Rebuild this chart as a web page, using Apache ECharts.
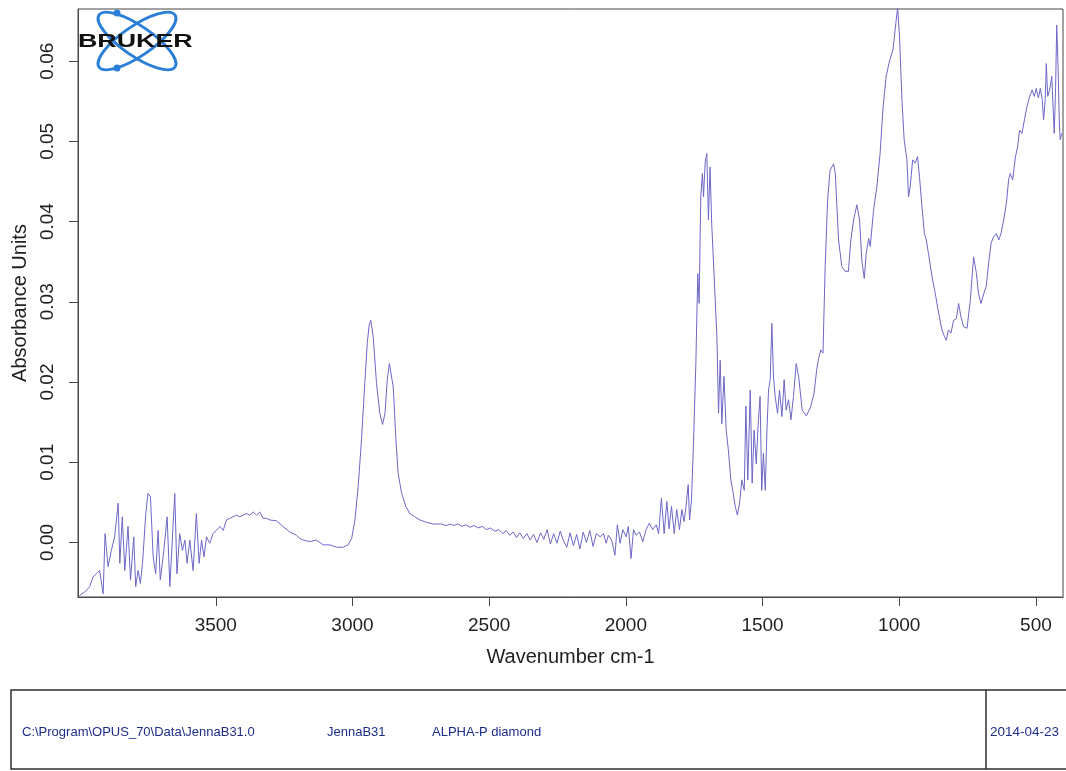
<!DOCTYPE html>
<html>
<head>
<meta charset="utf-8">
<title>JennaB31 - ATR spectrum</title>
<script src="https://cdn.jsdelivr.net/npm/echarts@6/dist/echarts.min.js"></script>
<style>
  html, body { margin: 0; padding: 0; background: #ffffff; }
  #chart { width: 1066px; height: 771px; }
</style>
</head>
<body>
<div id="chart"></div>
<script>
// Spectrum, [wavenumber cm-1, absorbance], split by region (high to low wavenumber)
const ohRegion = [
  [3998, -0.0066], [3980, -0.0062], [3961, -0.0055], [3949, -0.0043], [3937, -0.0039],
  [3925, -0.0035], [3912, -0.0064], [3905, 0.0011], [3894, -0.0030], [3882, -0.0010],
  [3870, 0.0007], [3857, 0.0049], [3851, -0.0026], [3842, 0.0032], [3833, -0.0035],
  [3821, 0.0020], [3812, -0.0047], [3800, 0.0007], [3793, -0.0055], [3784, -0.0035],
  [3776, -0.0051], [3768, -0.0026], [3756, 0.0036], [3748, 0.0061], [3739, 0.0057],
  [3729, -0.0018], [3720, -0.0039], [3711, 0.0015], [3703, -0.0047], [3690, -0.0010],
  [3678, 0.0032], [3668, -0.0055], [3659, 0.0003], [3650, 0.0061], [3642, -0.0039],
  [3632, 0.0011], [3622, -0.0010], [3613, 0.0003], [3605, -0.0026], [3595, 0.0003],
  [3583, -0.0035], [3571, 0.0036], [3561, -0.0026], [3552, 0.0003], [3543, -0.0018],
  [3534, 0.0007], [3522, -0.0001], [3510, 0.0011], [3498, 0.0015], [3485, 0.0020],
  [3473, 0.0015], [3461, 0.0028], [3449, 0.0030], [3437, 0.0032], [3424, 0.0034],
  [3412, 0.0032], [3400, 0.0034], [3388, 0.0036], [3376, 0.0034], [3363, 0.0038],
  [3351, 0.0034], [3339, 0.0038], [3327, 0.0030], [3315, 0.0030], [3302, 0.0028],
  [3278, 0.0027], [3254, 0.0020], [3229, 0.0013], [3205, 0.0009], [3193, 0.0005],
  [3180, 0.0003], [3156, 0.0001], [3132, 0.0003], [3107, -0.0003], [3083, -0.0003],
  [3058, -0.0006], [3034, -0.0006]
];

const chRegion = [
  [3016, -0.0003], [3003, 0.0005], [2991, 0.0028], [2979, 0.0070], [2967, 0.0128],
  [2955, 0.0198], [2946, 0.0248], [2939, 0.0271], [2933, 0.0277], [2924, 0.0256],
  [2912, 0.0198], [2900, 0.0161], [2890, 0.0147], [2881, 0.0161], [2873, 0.0202],
  [2865, 0.0223], [2859, 0.0225], [2851, 0.0194], [2841, 0.0128], [2833, 0.0086],
  [2820, 0.0061], [2805, 0.0045], [2790, 0.0036], [2772, 0.0032], [2753, 0.0028],
  [2729, 0.0025], [2704, 0.0023], [2674, 0.0023], [2658, 0.0021]
];

const baselineRegion = [
  [2643, 0.0023], [2630, 0.0021], [2615, 0.0023], [2600, 0.0020], [2585, 0.0022],
  [2570, 0.0019], [2555, 0.0021], [2540, 0.0018], [2525, 0.0020], [2510, 0.0016],
  [2495, 0.0018], [2480, 0.0014], [2465, 0.0016], [2450, 0.0011], [2438, 0.0015],
  [2425, 0.0009], [2412, 0.0013], [2400, 0.0006], [2388, 0.0012], [2375, 0.0005],
  [2362, 0.0011], [2350, 0.0003], [2338, 0.0010], [2325, 0.0000], [2312, 0.0012],
  [2300, 0.0004], [2288, 0.0016], [2276, -0.0002], [2264, 0.0011], [2252, -0.0001],
  [2240, 0.0014], [2228, 0.0002], [2216, -0.0006], [2204, 0.0012], [2192, -0.0004],
  [2180, 0.0010], [2168, -0.0008], [2156, 0.0013], [2144, 0.0000], [2132, 0.0015],
  [2120, -0.0005], [2108, 0.0011]
];

const carbonylRegion = [
  [2094, 0.0007], [2082, 0.0011], [2072, -0.0001], [2064, 0.0009], [2052, 0.0003],
  [2040, -0.0016], [2031, 0.0022], [2021, -0.0001], [2011, 0.0016], [1999, 0.0007],
  [1991, 0.0020], [1981, -0.0020], [1972, 0.0016], [1963, 0.0009], [1950, 0.0013],
  [1938, 0.0001], [1926, 0.0016], [1914, 0.0024], [1902, 0.0016], [1889, 0.0022],
  [1880, 0.0011], [1870, 0.0055], [1860, 0.0011], [1850, 0.0051], [1842, 0.0017],
  [1833, 0.0045], [1823, 0.0011], [1814, 0.0041], [1804, 0.0016], [1795, 0.0041],
  [1787, 0.0026], [1780, 0.0045], [1772, 0.0072], [1767, 0.0028], [1760, 0.0053],
  [1753, 0.0119], [1744, 0.0223], [1737, 0.0335], [1732, 0.0298], [1726, 0.0431],
  [1720, 0.0460], [1716, 0.0431], [1710, 0.0473], [1704, 0.0485], [1698, 0.0402],
  [1692, 0.0468], [1686, 0.0398], [1677, 0.0331], [1667, 0.0256], [1661, 0.0161],
  [1655, 0.0227], [1649, 0.0148], [1641, 0.0207], [1633, 0.0140], [1625, 0.0115],
  [1616, 0.0078], [1609, 0.0065], [1600, 0.0045], [1592, 0.0034], [1584, 0.0049],
  [1576, 0.0078], [1567, 0.0065], [1561, 0.0170], [1554, 0.0078], [1545, 0.0190],
  [1538, 0.0074], [1531, 0.0140], [1523, 0.0098], [1516, 0.0148], [1509, 0.0182],
  [1503, 0.0065], [1497, 0.0111], [1490, 0.0065], [1484, 0.0140], [1478, 0.0190],
  [1472, 0.0203], [1466, 0.0273], [1460, 0.0207], [1454, 0.0182], [1445, 0.0161],
  [1438, 0.0190], [1429, 0.0157], [1421, 0.0203], [1414, 0.0165], [1405, 0.0178],
  [1396, 0.0153], [1387, 0.0182], [1377, 0.0223], [1368, 0.0207], [1355, 0.0165],
  [1340, 0.0158], [1325, 0.0168], [1312, 0.0185], [1302, 0.0215]
];

const fingerprintRegion = [
  [1295, 0.0229], [1287, 0.0240], [1279, 0.0236], [1271, 0.0344], [1262, 0.0427],
  [1253, 0.0464], [1240, 0.0472], [1234, 0.0460], [1228, 0.0419], [1222, 0.0377],
  [1210, 0.0344], [1198, 0.0338], [1186, 0.0338], [1177, 0.0377], [1167, 0.0402],
  [1155, 0.0421], [1145, 0.0402], [1137, 0.0352], [1128, 0.0329], [1121, 0.0360],
  [1112, 0.0379], [1106, 0.0369], [1094, 0.0414], [1082, 0.0443], [1070, 0.0485],
  [1060, 0.0539], [1048, 0.0581], [1035, 0.0601], [1023, 0.0614], [1015, 0.0639],
  [1006, 0.0667], [999, 0.0630], [990, 0.0551], [982, 0.0502], [972, 0.0477],
  [966, 0.0431], [960, 0.0443], [951, 0.0477], [942, 0.0473], [933, 0.0481],
  [926, 0.0456], [917, 0.0419], [908, 0.0385], [901, 0.0377], [893, 0.0360],
  [880, 0.0331], [868, 0.0310], [856, 0.0286], [844, 0.0265], [835, 0.0257],
  [828, 0.0252], [820, 0.0265], [811, 0.0261], [801, 0.0277], [791, 0.0279],
  [783, 0.0298], [774, 0.0281], [765, 0.0269], [752, 0.0267], [740, 0.0302],
  [728, 0.0356], [718, 0.0336], [710, 0.0310], [701, 0.0298], [691, 0.0310],
  [682, 0.0319], [673, 0.0348], [664, 0.0373], [655, 0.0381], [645, 0.0385],
  [636, 0.0377], [628, 0.0385], [618, 0.0402], [608, 0.0423], [600, 0.0452],
  [594, 0.0460], [585, 0.0452], [575, 0.0481], [567, 0.0493], [560, 0.0514],
  [551, 0.0510], [542, 0.0527], [533, 0.0543], [523, 0.0556], [514, 0.0564],
  [506, 0.0556], [499, 0.0566], [491, 0.0554], [484, 0.0566], [477, 0.0552],
  [472, 0.0527], [466, 0.0552], [462, 0.0597], [457, 0.0556], [450, 0.0564],
  [442, 0.0581], [438, 0.0548], [433, 0.0510], [428, 0.0568], [424, 0.0645],
  [419, 0.0593], [414, 0.0518], [411, 0.0502], [406, 0.0510]
];

const xTickValues = [3500, 3000, 2500, 2000, 1500, 1000, 500];
const yTickValues = [0.00, 0.01, 0.02, 0.03, 0.04, 0.05, 0.06];

const fileInfo = ['C:\\Program\\OPUS_70\\Data\\JennaB31.0', 'JennaB31', 'ALPHA-P diamond'];
const measuredOn = '2014-04-23';

const spectrum = [].concat(ohRegion, chRegion, baselineRegion, carbonylRegion, fingerprintRegion);

const FONT = "'Liberation Sans', Arial, Helvetica, sans-serif";
const AXIS_COLOR = '#474747';
const TEXT_COLOR = '#1f1f1f';
const INFO_COLOR = '#1d2d8a';
const LOGO_BLUE = '#2b7fd6';

const chart = echarts.init(document.getElementById('chart'), null, { renderer: 'canvas' });

const option = {
  animation: false,
  backgroundColor: '#ffffff',
  grid: {
    left: 78, right: 3, top: 9, bottom: 174,
    show: true, borderColor: AXIS_COLOR, borderWidth: 1, backgroundColor: 'transparent'
  },
  xAxis: {
    type: 'value',
    inverse: true,
    min: 401,
    max: 4004,
    name: 'Wavenumber cm-1',
    nameLocation: 'middle',
    nameGap: 50,
    nameTextStyle: { fontFamily: FONT, fontSize: 20, color: TEXT_COLOR },
    axisLine: { show: true, onZero: false, lineStyle: { color: AXIS_COLOR, width: 1 } },
    axisTick: { show: true, length: 9, customValues: xTickValues, lineStyle: { color: AXIS_COLOR } },
    axisLabel: {
      customValues: xTickValues, fontFamily: FONT, fontSize: 19, color: TEXT_COLOR, margin: 19,
      formatter: v => String(v)
    },
    splitLine: { show: false }
  },
  yAxis: {
    type: 'value',
    min: -0.0068,
    max: 0.0665,
    name: 'Absorbance Units',
    nameLocation: 'middle',
    nameRotate: 90,
    nameGap: 47,
    nameTextStyle: { fontFamily: FONT, fontSize: 20, color: TEXT_COLOR },
    axisLine: { show: true, onZero: false, lineStyle: { color: AXIS_COLOR, width: 1 } },
    axisTick: { show: true, length: 9, customValues: yTickValues, lineStyle: { color: AXIS_COLOR } },
    axisLabel: {
      customValues: yTickValues, rotate: 90, fontFamily: FONT, fontSize: 19, color: TEXT_COLOR, margin: 21,
      formatter: v => v.toFixed(2)
    },
    splitLine: { show: false }
  },
  series: [{
    type: 'line',
    data: spectrum,
    showSymbol: false,
    symbol: 'none',
    clip: true,
    lineStyle: { color: '#6e67c6', width: 1 },
    z: 3
  }],
  graphic: [
    // Bruker logo: two crossed orbits, two dots and the word mark
    { type: 'ellipse', x: 137, y: 41, rotation: -0.6, shape: { cx: 0, cy: 0, rx: 46, ry: 15 },
      style: { fill: null, stroke: LOGO_BLUE, lineWidth: 3 }, z: 10 },
    { type: 'ellipse', x: 137, y: 41, rotation: 0.6, shape: { cx: 0, cy: 0, rx: 46, ry: 15 },
      style: { fill: null, stroke: LOGO_BLUE, lineWidth: 3 }, z: 10 },
    { type: 'circle', shape: { cx: 117, cy: 13, r: 3.5 }, style: { fill: LOGO_BLUE }, z: 11 },
    { type: 'circle', shape: { cx: 117, cy: 68, r: 3.5 }, style: { fill: LOGO_BLUE }, z: 11 },
    { type: 'text', x: 78, y: 42, scaleX: 1.49, z: 12,
      style: { text: 'BRUKER', font: "900 18px 'Liberation Sans', Arial, sans-serif", fill: '#111111',
               textAlign: 'left', textVerticalAlign: 'middle' } },
    // Sample information strip
    { type: 'rect', shape: { x: 11, y: 690, width: 1060, height: 79 },
      style: { fill: null, stroke: '#2e2e2e', lineWidth: 1.5 }, z: 5 },
    { type: 'line', shape: { x1: 986, y1: 690, x2: 986, y2: 769 },
      style: { stroke: '#2e2e2e', lineWidth: 1.5 }, z: 5 },
    { type: 'text', x: 22, y: 732, z: 6,
      style: { text: fileInfo[0], font: "13px 'Liberation Sans', Arial, sans-serif", fill: INFO_COLOR, textVerticalAlign: 'middle' } },
    { type: 'text', x: 327, y: 732, z: 6,
      style: { text: fileInfo[1], font: "13px 'Liberation Sans', Arial, sans-serif", fill: INFO_COLOR, textVerticalAlign: 'middle' } },
    { type: 'text', x: 432, y: 732, z: 6,
      style: { text: fileInfo[2], font: "13px 'Liberation Sans', Arial, sans-serif", fill: INFO_COLOR, textVerticalAlign: 'middle' } },
    { type: 'text', x: 990, y: 732, z: 6,
      style: { text: measuredOn, font: "13.5px 'Liberation Sans', Arial, sans-serif", fill: INFO_COLOR, textVerticalAlign: 'middle' } }
  ]
};

chart.setOption(option);
</script>
</body>
</html>
